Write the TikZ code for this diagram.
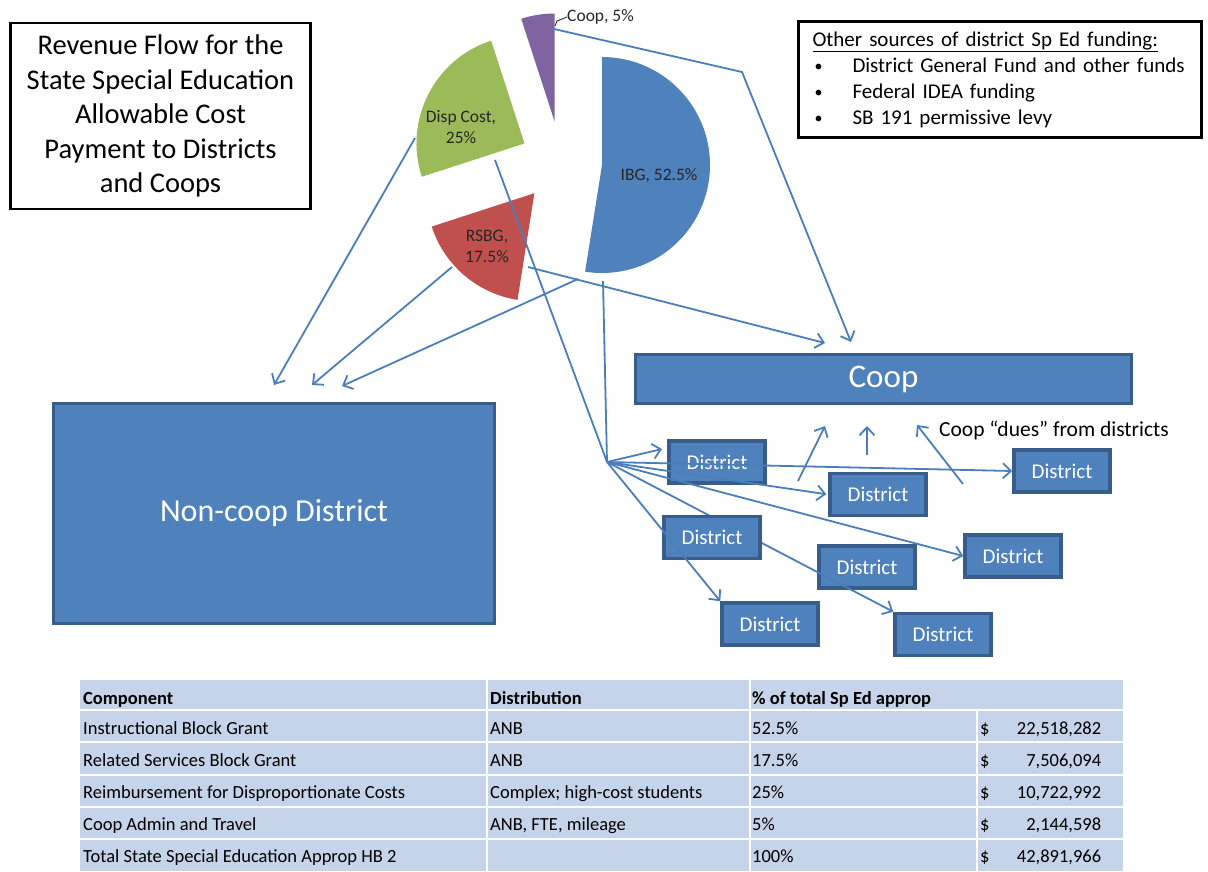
\documentclass[tikz,border=0pt]{standalone}
\usepackage{fontspec}
\setmainfont{Carlito}
\usetikzlibrary{arrows.meta}
\definecolor{ibgblue}{HTML}{4F81BD}
\definecolor{rsbgred}{HTML}{C0504D}
\definecolor{dispgreen}{HTML}{9BBB59}
\definecolor{coopviolet}{HTML}{8064A2}
\definecolor{boxedge}{HTML}{385D8A}
\definecolor{flowblue}{HTML}{4A7EBB}
\definecolor{tabfill}{HTML}{C5D4E8}
\newcommand{\srcbullet}{\makebox[40pt][l]{\hspace{2pt}\raisebox{1pt}{\fontsize{16}{16}\selectfont\textbullet}}}
\newcommand{\othersources}{\underline{Other sources of district Sp Ed funding:}\\
  \srcbullet District General Fund and other funds\\
  \srcbullet Federal IDEA funding\\
  \srcbullet SB 191 permissive levy}
\newcommand{\amount}[1]{\makebox[121pt][s]{\$\hfill #1}}

\begin{document}
\begin{tikzpicture}[x=1pt,y=-1pt,
    flowline/.style={draw=flowblue, line width=1.8pt},
    flow/.style={flowline, -{Straight Barb[length=8pt,width=15pt,line width=1.8pt]}},
    bigbox/.style={draw=boxedge, fill=ibgblue, line width=3.5pt, text=white, inner sep=0pt},
    district/.style={bigbox, minimum width=96, minimum height=42, font=\fontsize{21}{24}\selectfont},
    slicelabel/.style={inner sep=0pt, text=black!85, font=\fontsize{17.5}{21}\selectfont},
    cell/.style={anchor=base west, inner sep=0pt, font=\fontsize{18.5}{20}\selectfont},
    headcell/.style={cell, font=\fontsize{18.5}{20}\selectfont\bfseries}]
    \useasboundingbox (0,0) rectangle (1208,871);

    \node[draw, line width=2.5pt, minimum width=300, minimum height=186, align=center, inner sep=0pt,
      font=\fontsize{28.5}{34.6}\selectfont] (title) at (160.5,116)
      {Revenue Flow for the\\State Special Education\\Allowable Cost\\Payment to Districts\\and Coops};
    \node[draw, line width=2.5pt, minimum width=403, minimum height=116, align=left, inner sep=0pt,
      text width=375pt, font=\fontsize{21}{26}\selectfont] (others) at (1000,79.5) {\othersources};

    \fill[ibgblue] (602,165) -- ++(-90:108) arc[start angle=-90, end angle=99, radius=108] -- cycle;
    \fill[rsbgred] (534.4,193.2) -- ++(99:108) arc[start angle=99, end angle=162, radius=108] -- cycle;
    \fill[dispgreen] (524.5,143.4) -- ++(162:108) arc[start angle=162, end angle=252, radius=108] -- cycle;
    \fill[coopviolet] (554.6,121.5) -- ++(252:108) arc[start angle=252, end angle=270, radius=108] -- cycle;

    \node[slicelabel] (ibglab) at (659,176) {IBG, 52.5\%};
    \node[slicelabel, align=center] (rsbglab) at (487,246) {RSBG,\\17.5\%};
    \node[slicelabel, align=center] (displab) at (461,127) {Disp Cost,\\25\%};
    \node[slicelabel, anchor=west] (cooplab) at (567,17) {Coop, 5\%};
    \draw[black!80, line width=1pt] (555,26) -- (557,21) -- (cooplab.west);

    \node[bigbox, minimum width=496, minimum height=49, font=\fontsize{33}{38}\selectfont] (coop) at (883.5,379) {Coop};
    \node[bigbox, minimum width=441, minimum height=220, font=\fontsize{32}{38}\selectfont] (noncoop) at (274,513.5) {Non-coop District};

    \node[district] (d1) at (717,462) {District};
    \node[district] (d2) at (878,494.5) {District};
    \node[district] (d3) at (1062,471) {District};
    \node[district] (d5) at (867,567) {District};
    \node[district] (d6) at (1013,556) {District};
    \node[district] (d7) at (770,624) {District};
    \node[district] (d8) at (943,634.5) {District};

    \coordinate (hub) at (607,462);
    \coordinate (d1tip) at (662,449);
    \draw[flow] (hub) -- (d8.north west);
    \node[district] (d4) at (712,537.5) {District};

    \coordinate (dispa) at (415,138);
    \coordinate (dispb) at (495,160);
    \coordinate (rsbga) at (452,267);
    \coordinate (rsbgb) at (528,267);
    \coordinate (ibga) at (578,279);
    \coordinate (ibgb) at (603,281);
    \coordinate (coopa) at (554,29);
    \coordinate (bend) at (742,72);
    \coordinate (nc1) at (274,385);
    \coordinate (nc2) at (312,385);
    \coordinate (nc3) at (342,386);
    \coordinate (coop1) at (825,343);
    \coordinate (coop2) at (851,342);

    \draw[flow] (dispa) -- (nc1);
    \draw[flow] (rsbga) -- (nc2);
    \draw[flow] (ibga) -- (nc3);
    \draw[flow] (rsbgb) -- (coop1);
    \draw[flow] (coopa) -- (bend) -- (coop2);
    \draw[flowline] (dispb) -- (hub);
    \draw[flowline] (ibgb) -- (hub);

    \draw[flow] (hub) -- (d1tip);
    \draw[flow] (hub) -- (d3.west);
    \draw[flow, shorten >=2pt] (hub) -- (d2.west);
    \draw[flow] (hub) -- (d6.west);
    \draw[flow] (hub) -- (d7.north west);

    \coordinate (dues1) at (798,481);
    \coordinate (dues2) at (867,455);
    \coordinate (dues3) at (963,484);
    \coordinate (up1) at (825,426);
    \coordinate (up2) at (867,426);
    \coordinate (up3) at (917,425);
    \draw[flow] (dues1) -- (up1);
    \draw[flow] (dues2) -- (up2);
    \draw[flow] (dues3) -- (up3);
    \node[anchor=west, inner sep=0pt, font=\fontsize{21.5}{24}\selectfont] (dueslab) at (939,430) {Coop ``dues'' from districts};

    \fill[tabfill] (80,680) rectangle (1123,871);
    \draw[white, line width=2pt] (80,709.5) -- (1123,709.5);
    \draw[white, line width=2pt] (80,742) -- (1123,742);
    \draw[white, line width=2pt] (80,774.5) -- (1123,774.5);
    \draw[white, line width=2pt] (80,807) -- (1123,807);
    \draw[white, line width=2pt] (80,838.5) -- (1123,838.5);
    \draw[white, line width=2pt] (487,680) -- (487,871);
    \draw[white, line width=2pt] (750,680) -- (750,871);
    \draw[white, line width=2pt] (977,709.5) -- (977,871);

    \node[headcell] (h1) at (83,704) {Component};
    \node[headcell] (h2) at (490,704) {Distribution};
    \node[headcell] (h3) at (752,704) {\% of total Sp Ed approp};
    \node[cell] (r1a) at (83,734) {Instructional Block Grant};
    \node[cell] (r1b) at (490,734) {ANB};
    \node[cell] (r1c) at (752,734) {52.5\%};
    \node[cell] (r1d) at (980,734) {\amount{22,518,282}};
    \node[cell] (r2a) at (83,766) {Related Services Block Grant};
    \node[cell] (r2b) at (490,766) {ANB};
    \node[cell] (r2c) at (752,766) {17.5\%};
    \node[cell] (r2d) at (980,766) {\amount{7,506,094}};
    \node[cell] (r3a) at (83,798) {Reimbursement for Disproportionate Costs};
    \node[cell] (r3b) at (490,798) {Complex; high-cost students};
    \node[cell] (r3c) at (752,798) {25\%};
    \node[cell] (r3d) at (980,798) {\amount{10,722,992}};
    \node[cell] (r4a) at (83,830) {Coop Admin and Travel};
    \node[cell] (r4b) at (490,830) {ANB, FTE, mileage};
    \node[cell] (r4c) at (752,830) {5\%};
    \node[cell] (r4d) at (980,830) {\amount{2,144,598}};
    \node[cell] (r5a) at (83,862) {Total State Special Education Approp HB 2};
    \node[cell] (r5c) at (752,862) {100\%};
    \node[cell] (r5d) at (980,862) {\amount{42,891,966}};
\end{tikzpicture}
\end{document}
